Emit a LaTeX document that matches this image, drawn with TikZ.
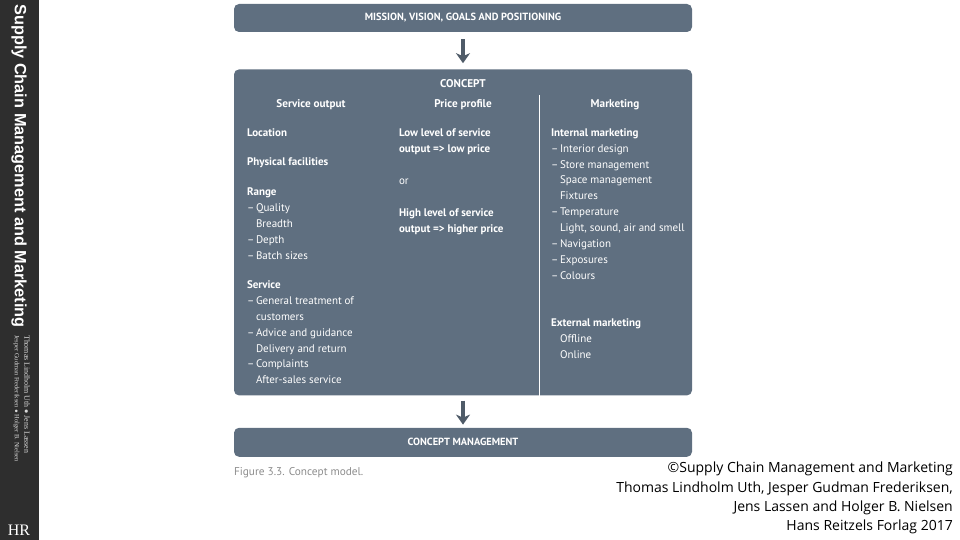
\documentclass[tikz,border=0pt]{standalone}
\usepackage{fontspec}
\setmainfont{PT Sans}
\newfontfamily\spinefont{Liberation Sans}
\newfontfamily\spineserif{Liberation Serif}
\newfontfamily\notefont{Open Sans}
\usepackage{xcolor}
\usetikzlibrary{positioning, arrows.meta}
\definecolor{cmblue}{HTML}{5F6F80}
\definecolor{cmarrow}{HTML}{4F5B68}
\definecolor{cmspine}{HTML}{2E2E2E}
\definecolor{cmgray}{HTML}{8C8C8C}
\newcommand{\itemdash}{\makebox[9pt][l]{--}}
\newcommand{\itemgap}{\hspace*{9pt}}

\begin{document}
\begin{tikzpicture}[
  x=1pt, y=1pt,
  modelbox/.style={
    rectangle, rounded corners=5pt, fill=cmblue, text=white,
    minimum width=458pt, inner sep=0pt,
    font=\fontsize{10.4}{14}\selectfont\bfseries, align=center
  },
  heading/.style={text=white, inner sep=0pt, font=\fontsize{11.2}{14}\selectfont\bfseries},
  textblock/.style={
    text=white, inner sep=0pt, align=left,
    font=\fontsize{11}{15.9}\selectfont,
    execute at begin node=\strut, execute at end node=\strut
  },
  arr/.style={-{Stealth[length=10pt, width=14pt, inset=3pt]}, line width=3.5pt, color=cmarrow},
]
\useasboundingbox (0,0) rectangle (960,-540);

% Spine of the book
\node[fill=cmspine, minimum width=39pt, minimum height=540pt, inner sep=0pt] (spine) at (19.5,-270) {};
\node[rotate=-90, text=white, inner sep=0pt, font=\spinefont\fontsize{16.3}{18}\selectfont\bfseries] (spinetitle) at (19,-166)
  {Supply Chain Management and Marketing};
\node[rotate=-90, anchor=north west, text=white!85!black, inner sep=0pt, align=left, font=\spineserif\fontsize{6.5}{9.5}\selectfont] (spineauthors) at (30,-335)
  {\fontsize{7.9}{9.5}\selectfont Thomas Lindholm Uth $\bullet$ Jens Lassen\\Jesper Gudman Frederiksen $\bullet$ Holger B. Nielsen};
\node[text=white, inner sep=0pt, font=\spineserif\fontsize{16}{18}\selectfont] (spinelogo) at (19,-530) {HR};

% Boxes
\node[modelbox, minimum height=28pt] (mission) at (463,-18) {MISSION, VISION, GOALS AND POSITIONING};
\node[modelbox, minimum height=326pt, below=37pt of mission] (concept) {};
\node[modelbox, minimum height=29pt, below=32pt of concept] (management) {CONCEPT MANAGEMENT};

\draw[arr, shorten <=7pt, shorten >=6pt] (mission) -- (concept);
\draw[arr, shorten <=5pt, shorten >=3pt] (concept) -- (management);

% Headings
\node[heading, below=10pt of concept.north] (conceptlabel) {CONCEPT};
\node[heading] (serviceoutput) at (311,-105) {Service output};
\node[heading, right=152pt of serviceoutput.center, anchor=center] (priceprofile) {Price profile};
\node[heading, right=152pt of priceprofile.center, anchor=center] (marketing) {Marketing};

\coordinate (divtop) at (539.5,-95);
\draw[white, line width=0.8pt] (divtop) -- (divtop |- concept.south);

% Left column
\node[textblock, below right=56pt and 13pt of concept.north west] (location) {\textbf{Location}};
\node[textblock, below=13pt of location.south west, anchor=north west] (facilities) {\textbf{Physical facilities}};
\node[textblock, below=17pt of facilities.south west, anchor=north west] (range)
  {\textbf{Range}\\\itemdash Quality\\\itemgap Breadth\\\itemdash Depth\\\itemdash Batch sizes};
\node[textblock, below=16pt of range.south west, anchor=north west] (service)
  {\textbf{Service}\\\itemdash General treatment of\\\itemgap customers\\\itemdash Advice and guidance\\\itemgap Delivery and return\\\itemdash Complaints\\\itemgap After-sales service};

% Middle column
\node[textblock, below right=59pt and 165pt of concept.north west] (lowlevel)
  {\textbf{Low level of service}\\\textbf{output => low price}};
\node[textblock, below=16pt of lowlevel.south west, anchor=north west] (orlabel) {or};
\node[textblock, below=19pt of orlabel.south west, anchor=north west] (highlevel)
  {\textbf{High level of service}\\\textbf{output => higher price}};

% Right column
\node[textblock, below right=59pt and 317pt of concept.north west] (internal)
  {\textbf{Internal marketing}\\\itemdash Interior design\\\itemdash Store management\\\itemgap Space management\\\itemgap Fixtures\\\itemdash Temperature\\\itemgap Light, sound, air and smell\\\itemdash Navigation\\\itemdash Exposures\\\itemdash Colours};
\node[textblock, below=34pt of internal.south west, anchor=north west] (external)
  {\textbf{External marketing}\\\itemgap Offline\\\itemgap Online};

% Caption and source
\node[text=cmgray, inner sep=0pt, font=\fontsize{11.3}{14}\selectfont, below=10pt of management.south west, anchor=north west] (caption)
  {Figure 3.3. Concept model.};
\node[anchor=north east, inner sep=0pt, align=right, font=\notefont\fontsize{14}{19.2}\selectfont] (source) at (953,-462)
  {©Supply Chain Management and Marketing\\Thomas Lindholm Uth, Jesper Gudman Frederiksen,\\Jens Lassen and Holger B. Nielsen\\Hans Reitzels Forlag 2017};
\end{tikzpicture}
\end{document}
